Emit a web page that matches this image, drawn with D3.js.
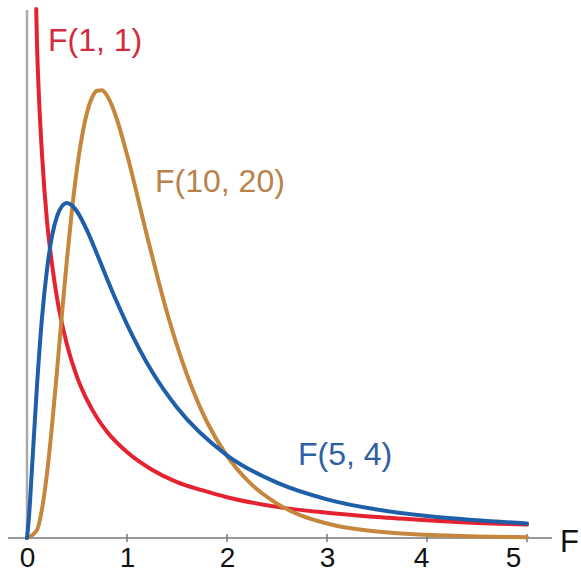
<!DOCTYPE html>
<html>
	<head>
		<meta charset=utf-8>
		<title>F distributions</title>
		<style type="text/css">
			body { margin: 0; background: #fff; }
			text { font-family: Arial, "Liberation Sans", sans-serif; }
		</style>
		<script src="https://cdnjs.cloudflare.com/ajax/libs/d3/7.8.5/d3.min.js"></script>
	</head>
	<body>
		<script>
			// values (x = F, y = density)
			var xRed = [0.092, 0.1, 0.12, 0.15, 0.2, 0.25, 0.3, 0.4, 0.5, 0.6, 0.7, 0.8, 1.0, 1.25, 1.5, 1.75, 2.0, 2.5, 3.0, 3.5, 4.0, 4.5, 5.0];
			var yRed = [0.985, 0.92, 0.82, 0.715, 0.59, 0.51, 0.447, 0.36, 0.30, 0.257, 0.224, 0.198, 0.16, 0.127, 0.104, 0.089, 0.076, 0.058, 0.047, 0.039, 0.033, 0.028, 0.025];

			var xBlue = [0, 0.02, 0.05, 0.1, 0.15, 0.2, 0.25, 0.3, 0.35, 0.4, 0.45, 0.5, 0.6, 0.7, 0.8, 0.9, 1.0, 1.25, 1.5, 2.0, 2.5, 3.0, 3.5, 4.0, 4.5, 5.0];
			var yBlue = [0, 0.04, 0.13, 0.284, 0.41, 0.50, 0.562, 0.599, 0.618, 0.624, 0.619, 0.608, 0.573, 0.529, 0.483, 0.439, 0.398, 0.31, 0.243, 0.154, 0.103, 0.072, 0.053, 0.041, 0.033, 0.027];

			var xOrange = [0, 0.1, 0.15, 0.2, 0.25, 0.3, 0.35, 0.4, 0.45, 0.5, 0.55, 0.6, 0.65, 0.7, 0.75, 0.8, 0.85, 0.9, 1.0, 1.2, 1.4, 1.6, 1.8, 2.0, 2.25, 2.5, 3.0, 3.5, 4.0, 4.5, 5.0];
			var yOrange = [0, 0.015, 0.054, 0.12, 0.209, 0.311, 0.418, 0.52, 0.611, 0.688, 0.748, 0.792, 0.82, 0.833, 0.834, 0.824, 0.805, 0.779, 0.714, 0.563, 0.42, 0.304, 0.216, 0.153, 0.099, 0.064, 0.027, 0.012, 0.006, 0.003, 0.0015];

			var xTicks = [0, 1, 2, 3, 4, 5];
			var tickShift = {4: -6, 5: -14}; // labels 4 and 5 sit a bit left of their ticks

			var series = [
				{name: "F(1, 1)", xs: xRed, ys: yRed, color: "#e5222f", text: "#d22d3d", lx: 0.21, ly: 0.906},
				{name: "F(10, 20)", xs: xOrange, ys: yOrange, color: "#c4873d", text: "#b8824d", lx: 1.28, ly: 0.644},
				{name: "F(5, 4)", xs: xBlue, ys: yBlue, color: "#1f5ea9", text: "#2f60a3", lx: 2.71, ly: 0.136}
			];

			var width = 581, height = 574;

			var x = d3.scaleLinear().domain([0, 5]).range([27, 527]);
			var y = d3.scaleLinear().domain([0, 1]).range([538, 1]);

			var svg = d3.select("body")
				.append("svg")
				.attr("width", width)
				.attr("height", height);

			// vertical axis
			svg.append("line")
				.attr("x1", x(0)).attr("x2", x(0))
				.attr("y1", 10).attr("y2", y(0))
				.style("stroke", "#aaaaaa")
				.style("stroke-width", 2.5);

			// horizontal axis with tick labels
			var xAxis = d3.axisBottom(x)
				.tickValues(xTicks)
				.tickSize(0)
				.tickPadding(9)
				.tickFormat(d3.format("d"));

			var gx = svg.append("g")
				.attr("transform", "translate(0," + y(0) + ")")
				.call(xAxis);
			gx.select(".domain").remove();
			gx.selectAll("text")
				.style("font-size", "28px")
				.style("fill", "#111")
				.attr("dx", function(d) { return tickShift[d] || 0; })
				.attr("dy", "0.71em");

			svg.append("line")
				.attr("x1", 8).attr("x2", 552)
				.attr("y1", y(0)).attr("y2", y(0))
				.style("stroke", "#999")
				.style("stroke-width", 2);

			svg.selectAll(".tickmark")
				.data(xTicks.slice(1))
				.enter().append("line")
				.attr("class", "tickmark")
				.attr("x1", function(d) { return x(d); })
				.attr("x2", function(d) { return x(d); })
				.attr("y1", y(0) - 4)
				.attr("y2", y(0) + 4)
				.style("stroke", "#777")
				.style("stroke-width", 1.5);

			// axis name
			svg.append("text")
				.attr("x", 560)
				.attr("y", 552)
				.style("font-size", "31px")
				.style("fill", "#111")
				.text("F");

			// density curves
			var line = d3.line()
				.x(function(d) { return x(d[0]); })
				.y(function(d) { return y(d[1]); })
				.curve(d3.curveMonotoneX);

			series.forEach(function(s) {
				var pts = s.xs.map(function(v, i) { return [v, s.ys[i]]; });
				svg.append("path")
					.attr("d", line(pts))
					.style("fill", "none")
					.style("stroke", s.color)
					.style("stroke-width", 4)
					.style("stroke-linecap", "round");
			});

			// curve labels
			series.forEach(function(s) {
				svg.append("text")
					.attr("x", x(s.lx))
					.attr("y", y(s.ly))
					.style("font-size", "32px")
					.style("fill", s.text)
					.text(s.name);
			});
		</script>
	</body>
</html>
